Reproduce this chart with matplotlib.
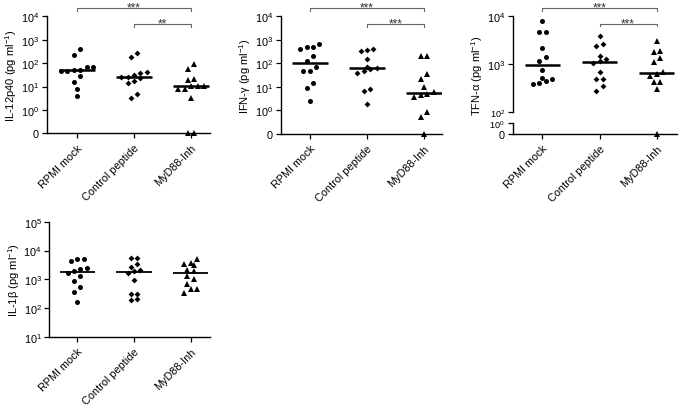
import numpy as np
import matplotlib
matplotlib.use('Agg')
import matplotlib.pyplot as plt
from matplotlib.ticker import FixedLocator, FixedFormatter, NullLocator

plt.rcParams['font.family'] = ['Liberation Sans', 'DejaVu Sans']
plt.rcParams['mathtext.default'] = 'regular'

groups = ['RPMI mock', 'Control peptide', 'MyD88-Inh']

# IL-12p40 (pg/ml)
il12_rpmi = [400, 225, 70, 66, 51, 50, 48, 45, 27, 15, 7.5, 4]
il12_ctrl = [280, 190, 42, 36, 30, 26, 25, 23, 18, 13.5, 5, 3.3]
il12_myd = [89, 58, 21, 19, 11, 11, 11, 7.5, 7.5, 3.1, 0, 0]

# IFN-gamma (pg/ml)
ifn_rpmi = [660, 475, 470, 400, 210, 127, 71, 48, 48, 14, 8.7, 2.5]
ifn_ctrl = [400, 370, 330, 150, 71, 65, 55, 45, 38, 8.4, 6.7, 1.8]
ifn_myd = [195, 195, 35, 22, 9.3, 6, 5, 4.5, 3.5, 0.8, 0.54, 0]

# TFN-alpha (pg/ml)
tfn_rpmi = [7600, 4700, 4500, 2100, 1370, 1140, 750, 510, 490, 440, 400, 380]
tfn_ctrl = [3850, 2600, 2400, 1490, 1260, 1170, 1050, 670, 490, 490, 345, 270]
tfn_myd = [3040, 1830, 1740, 1330, 1080, 690, 620, 560, 420, 420, 300, 0]

# IL-1beta (pg/ml)
il1_rpmi = [5000, 5000, 4200, 2400, 2200, 1900, 1700, 1260, 850, 530, 370, 160]
il1_ctrl = [5400, 5400, 3400, 2750, 2100, 2000, 1600, 950, 320, 310, 210, 190]
il1_myd = [5000, 3650, 3400, 3200, 2100, 2000, 1300, 1050, 690, 460, 460, 330]

markers = ['o', 'D', '^']
msizes = [3.6, 3.0, 3.9]

W, H = 685, 406
fig = plt.figure(figsize=(W / 100, H / 100), dpi=100)


def px_axes(left, right, top, bottom):
    return fig.add_axes([left / W, 1 - bottom / H, (right - left) / W, (bottom - top) / H])


def lg_fwd(y):
    y = np.asarray(y, dtype=float)
    return np.log10(np.maximum(y, 0.1))


def lg_inv(t):
    return 10 ** np.asarray(t, dtype=float)


def tfn_fwd(y):
    y = np.asarray(y, dtype=float)
    hi = np.log10(np.maximum(y, 100))
    mid = 1.78 + 0.11 * np.log10(np.clip(y, 1, 100))
    lo = 1.55 + 0.23 * np.clip(y, 0, 1)
    return np.where(y >= 100, hi, np.where(y >= 1, mid, lo))


def tfn_inv(t):
    t = np.asarray(t, dtype=float)
    hi = 10 ** np.maximum(t, 2)
    mid = 10 ** ((np.clip(t, 1.78, 2) - 1.78) / 0.11)
    lo = (t - 1.55) / 0.23
    return np.where(t >= 2, hi, np.where(t >= 1.78, mid, lo))


def swarm(ax, xc, vals, d_px=6.4, row_h=6.0):
    vals = np.asarray(vals, dtype=float)
    pts = ax.transData.transform(np.column_stack([np.full(len(vals), float(xc)), vals]))
    ypix = pts[:, 1]
    order = np.argsort(ypix)
    offs = np.zeros(len(vals))
    rows = []
    cur = [order[0]]
    for i in order[1:]:
        if ypix[i] - ypix[cur[0]] < row_h:
            cur.append(i)
        else:
            rows.append(cur)
            cur = [i]
    rows.append(cur)
    for r in rows:
        n = len(r)
        for k, i in enumerate(r):
            offs[i] = (k - (n - 1) / 2) * d_px
    x0 = ax.transData.transform((0, 1))[0]
    x1 = ax.transData.transform((1, 1))[0]
    return xc + offs / (x1 - x0)


def style(ax, xlim, ylabel):
    ax.set_xlim(*xlim)
    for s in ['top', 'right']:
        ax.spines[s].set_visible(False)
    for s in ['left', 'bottom']:
        ax.spines[s].set_linewidth(1.0)
    ax.set_xticks(range(3))
    ax.set_xticklabels(groups, rotation=45, ha='right', rotation_mode='anchor', fontsize=8.3)
    ax.tick_params(axis='both', direction='out', length=3.5, width=0.9, labelsize=7.8, pad=2)
    ax.tick_params(axis='x', pad=3)
    ax.yaxis.set_minor_locator(NullLocator())
    ax.set_ylabel(ylabel, fontsize=8, labelpad=1)


def draw_groups(ax, data, lw=1.8):
    for g, vals in enumerate(data):
        xs = swarm(ax, g, vals)
        ax.plot(xs, vals, linestyle='none', marker=markers[g], ms=msizes[g], mew=0,
                color='black', clip_on=False, zorder=3)
        med = np.median(vals)
        ax.plot([g - 0.31, g + 0.31], [med, med], color='black', lw=lw,
                solid_capstyle='butt', zorder=4)


def bracket(ax, x0, x1, y, drop, text):
    tr = ax.get_xaxis_transform()
    ax.plot([x0, x0, x1, x1], [y - drop, y, y, y - drop], color='#666666', lw=0.8,
            transform=tr, clip_on=False)
    ax.text((x0 + x1) / 2, y - 0.022, text, transform=tr, ha='center', va='baseline',
            fontsize=8.5, color='#333333')


def sci_labels(ticks):
    labs = []
    for t in ticks:
        if t == 0:
            labs.append('0')
        else:
            labs.append('$10^{%d}$' % int(round(np.log10(t))))
    return labs


# Panel 1: IL-12p40
ax1 = px_axes(46.7, 210, 17.3, 134.3)
ax1.set_yscale('function', functions=(lg_fwd, lg_inv))
ax1.set_ylim(0, 1e4)
t1 = [0, 1, 10, 100, 1000, 10000]
ax1.yaxis.set_major_locator(FixedLocator(t1))
ax1.yaxis.set_major_formatter(FixedFormatter(sci_labels(t1)))
style(ax1, (-0.53, 2.33), 'IL-12p40 (pg ml$^{-1}$)')
draw_groups(ax1, [il12_rpmi, il12_ctrl, il12_myd])
bracket(ax1, 0, 2, 1.071, 0.028, '***')
bracket(ax1, 1, 2, 0.934, 0.025, '**')

# Panel 2: IFN-gamma
ax2 = px_axes(280.7, 441.7, 17.3, 134.7)
ax2.set_yscale('function', functions=(lg_fwd, lg_inv))
ax2.set_ylim(0, 1e4)
ax2.yaxis.set_major_locator(FixedLocator(t1))
ax2.yaxis.set_major_formatter(FixedFormatter(sci_labels(t1)))
style(ax2, (-0.51, 2.31), 'IFN-γ (pg ml$^{-1}$)')
draw_groups(ax2, [ifn_rpmi, ifn_ctrl, ifn_myd])
bracket(ax2, 0, 2, 1.071, 0.028, '***')
bracket(ax2, 1, 2, 0.934, 0.025, '***')

# Panel 3: TFN-alpha (broken axis)
ax3 = px_axes(512.7, 676.7, 16.7, 135)
ax3.set_yscale('function', functions=(tfn_fwd, tfn_inv))
ax3.set_ylim(0, 1e4)
t3 = [0, 1, 100, 1000, 10000]
ax3.yaxis.set_major_locator(FixedLocator(t3))
ax3.yaxis.set_major_formatter(FixedFormatter(sci_labels(t3)))
style(ax3, (-0.52, 2.35), 'TFN-α (pg ml$^{-1}$)')
ax3.spines['left'].set_visible(False)
labs3 = ax3.get_yticklabels()
labs3[1].set_fontsize(6.6)
labs3[2].set_fontsize(6.6)
ytr = ax3.get_yaxis_transform()
ax3.plot([0, 0], [0, 1], color='black', lw=1.0, transform=ytr, clip_on=False)
ax3.plot([0, 0], [100, 1e4], color='black', lw=1.0, transform=ytr, clip_on=False)
draw_groups(ax3, [tfn_rpmi, tfn_ctrl, tfn_myd])
bracket(ax3, 0, 2, 1.069, 0.027, '***')
bracket(ax3, 1, 2, 0.934, 0.025, '***')

# Panel 4: IL-1beta
ax4 = px_axes(49.3, 210, 222.7, 338)
ax4.set_yscale('log')
ax4.set_ylim(10, 1e5)
t4 = [10, 100, 1000, 10000, 100000]
ax4.yaxis.set_major_locator(FixedLocator(t4))
ax4.yaxis.set_major_formatter(FixedFormatter(sci_labels(t4)))
style(ax4, (-0.49, 2.34), 'IL-1β (pg ml$^{-1}$)')
draw_groups(ax4, [il1_rpmi, il1_ctrl, il1_myd], lw=1.3)

fig.savefig('out.png', dpi=100)
